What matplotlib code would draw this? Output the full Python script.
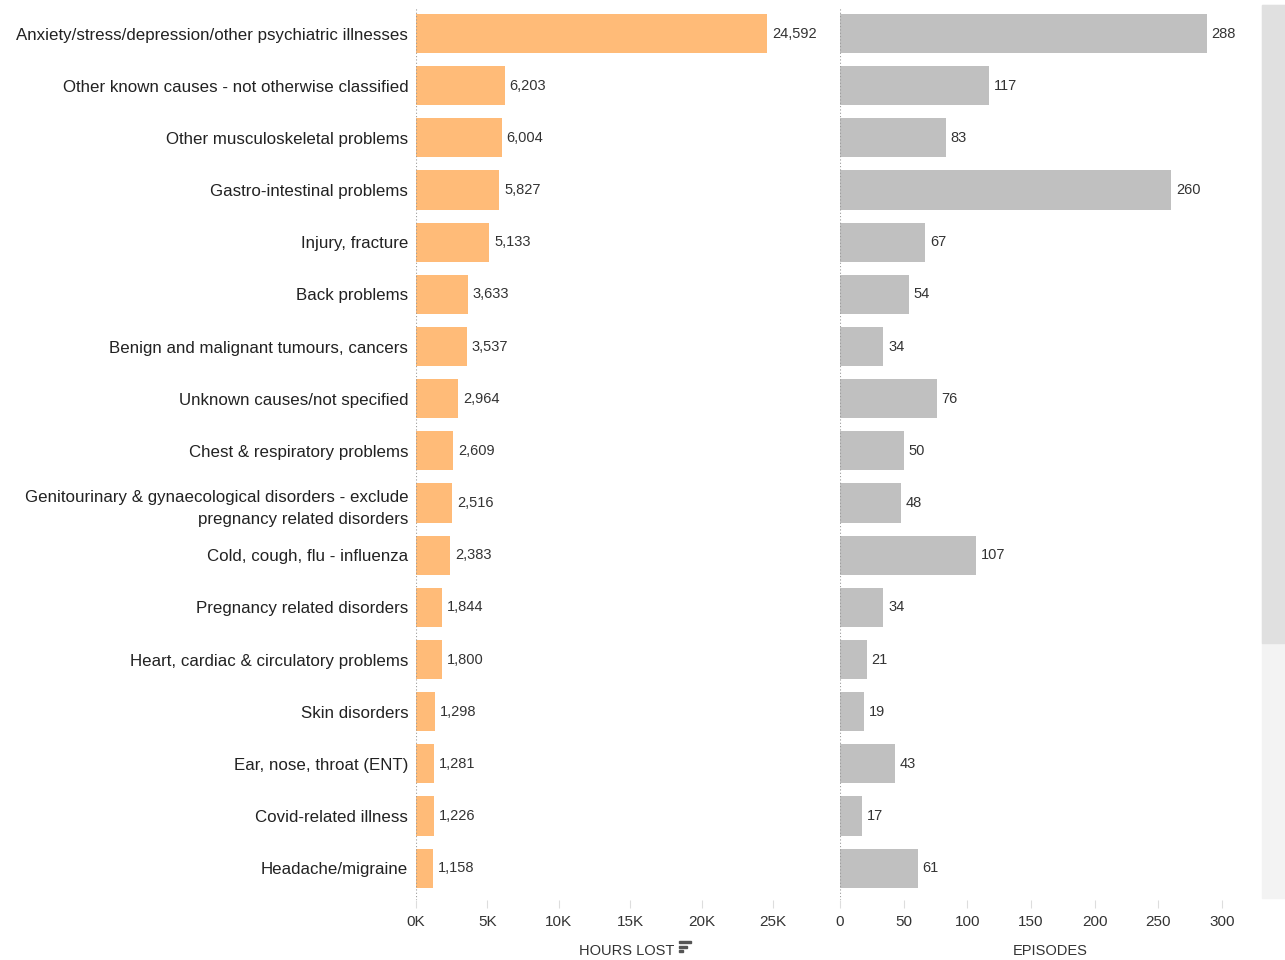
import matplotlib
matplotlib.use("Agg")
import matplotlib.pyplot as plt
from matplotlib.patches import Rectangle

categories = [
    "Anxiety/stress/depression/other psychiatric illnesses",
    "Other known causes - not otherwise classified",
    "Other musculoskeletal problems",
    "Gastro-intestinal problems",
    "Injury, fracture",
    "Back problems",
    "Benign and malignant tumours, cancers",
    "Unknown causes/not specified",
    "Chest & respiratory problems",
    "Genitourinary & gynaecological disorders - exclude\npregnancy related disorders",
    "Cold, cough, flu - influenza",
    "Pregnancy related disorders",
    "Heart, cardiac & circulatory problems",
    "Skin disorders",
    "Ear, nose, throat (ENT)",
    "Covid-related illness",
    "Headache/migraine",
]
hours_lost = [24592, 6203, 6004, 5827, 5133, 3633, 3537, 2964, 2609, 2516,
              2383, 1844, 1800, 1298, 1281, 1226, 1158]
episodes = [288, 117, 83, 260, 67, 54, 34, 76, 50, 48, 107, 34, 21, 19, 43, 17, 61]

hours_ticks = [0, 5000, 10000, 15000, 20000, 25000]
hours_tick_labels = ["0K", "5K", "10K", "15K", "20K", "25K"]
episode_ticks = [0, 50, 100, 150, 200, 250, 300]

plt.rcParams["font.family"] = ["Liberation Sans", "DejaVu Sans"]

W, H = 1285, 960
fig = plt.figure(figsize=(W / 100, H / 100), dpi=100)

top, bottom = 7, 900
ax1 = fig.add_axes([416 / W, 1 - bottom / H, (838 - 416) / W, (bottom - top) / H])
ax2 = fig.add_axes([840 / W, 1 - bottom / H, (1260 - 840) / W, (bottom - top) / H])

n = len(categories)
ypos = list(range(n))
orange = "#ffbb78"
grey = "#c0c0c0"
text_col = "#333333"

ax1.barh(ypos, hours_lost, height=0.75, color=orange)
ax2.barh(ypos, episodes, height=0.75, color=grey)

for y, v in zip(ypos, hours_lost):
    ax1.text(v + 350, y, f"{v:,}", va="center", ha="left", fontsize=10.5, color=text_col)
for y, v in zip(ypos, episodes):
    ax2.text(v + 3.9, y, f"{v}", va="center", ha="left", fontsize=10.5, color=text_col)

ax1.set_xlim(0, 29550)
ax2.set_xlim(0, 330)
for ax in (ax1, ax2):
    ax.set_ylim(16.61, -0.508)
    for s in ax.spines.values():
        s.set_visible(False)
    ax.axvline(0, color="#999999", linestyle=(0, (1, 2)), linewidth=0.8)
    ax.tick_params(axis="x", length=6, width=0.8, color="#dddddd", pad=5,
                   labelsize=11, labelcolor=text_col, direction="out")
    ax.tick_params(axis="y", length=0)

ax1.set_yticks(ypos)
ax1.set_yticklabels(categories, fontsize=12.2, color="#222222", linespacing=1.6)
ax1.tick_params(axis="y", pad=5.5)
ax2.set_yticks([])

ax1.set_xticks(hours_ticks)
ax1.set_xticklabels(hours_tick_labels)
ax2.set_xticks(episode_ticks)

ax1.set_xlabel("HOURS LOST", fontsize=10.5, color=text_col)
ax2.set_xlabel("EPISODES", fontsize=10.5, color=text_col)
for ax in (ax1, ax2):
    ax.xaxis.set_label_coords(0.5, -0.049)

# sort indicator next to the hours axis title
for i, w in enumerate([12, 8, 4]):
    fig.patches.append(Rectangle((679 / W, 1 - (943 + i * 4.5) / H), w / W, 2 / H,
                                 transform=fig.transFigure, color="#555555"))

# scroll bar track and thumb
fig.patches.append(Rectangle((1262 / W, 1 - 898 / H), 23 / W, (898 - 5) / H,
                             transform=fig.transFigure, color="#f3f3f3"))
fig.patches.append(Rectangle((1262 / W, 1 - 643 / H), 23 / W, (643 - 5) / H,
                             transform=fig.transFigure, color="#e0e0e0"))

fig.savefig("out.png", dpi=100)
